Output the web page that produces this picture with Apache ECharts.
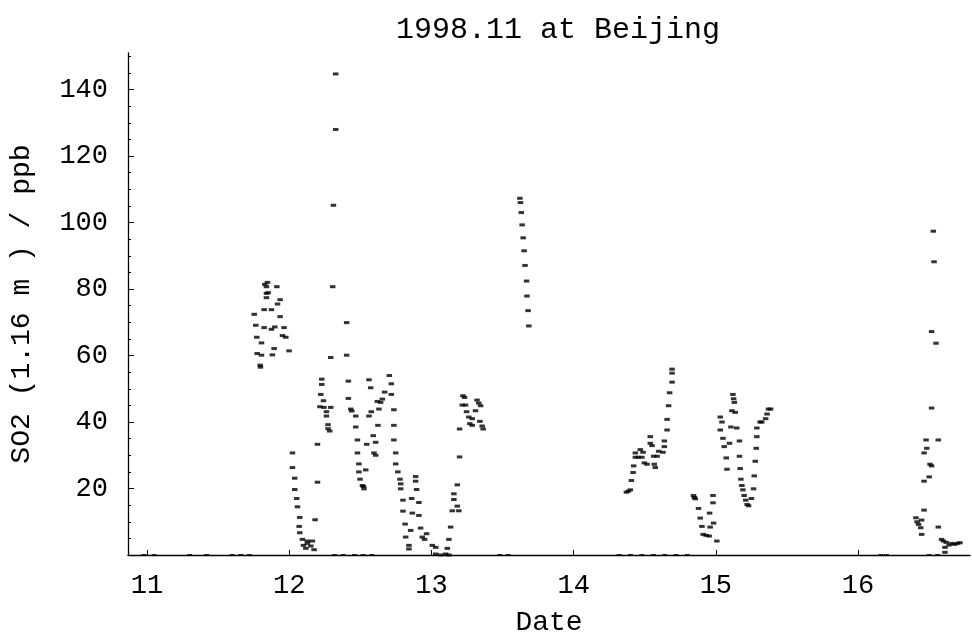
<!DOCTYPE html>
<html>
<head>
<meta charset="utf-8">
<script src="https://cdn.jsdelivr.net/npm/echarts@6/dist/echarts.min.js"></script>
<style>
  html, body { margin: 0; padding: 0; background: #ffffff; }
  #chart { width: 972px; height: 642px; }
</style>
</head>
<body>
<div id="chart"></div>
<script>
// SO2 at 1.16 m, Beijing, November 1998 (day of month vs ppb)
const dayValues = [
  11.754, 11.765, 11.772, 11.775, 11.796, 11.798, 11.805, 11.805, 11.824, 11.824,
  11.829, 11.840, 11.840, 11.840, 11.847, 11.852, 11.875, 11.875, 11.882, 11.894,
  11.899, 11.913, 11.918, 11.936, 11.936, 11.953, 11.964, 11.976, 11.999,
  12.023, 12.023, 12.039, 12.039, 12.053, 12.058, 12.074, 12.070, 12.074, 12.093,
  12.100, 12.117, 12.128, 12.128, 12.152, 12.163, 12.175, 12.182, 12.199, 12.199,
  12.216, 12.222, 12.229, 12.229, 12.241, 12.245, 12.262, 12.262, 12.273, 12.273,
  12.285, 12.292, 12.292, 12.306, 12.311, 12.327, 12.327,
  12.404, 12.404, 12.416, 12.416, 12.433, 12.440, 12.468, 12.468, 12.480, 12.480,
  12.490, 12.490, 12.498, 12.515, 12.522, 12.526,
  12.538, 12.545, 12.561, 12.561, 12.573, 12.577, 12.591, 12.596, 12.608, 12.608,
  12.620, 12.624, 12.631, 12.643, 12.655, 12.671, 12.704, 12.718, 12.718, 12.736,
  12.736, 12.736, 12.749, 12.749, 12.764, 12.779, 12.784, 12.784,
  12.800, 12.800, 12.815, 12.819, 12.842, 12.842, 12.854, 12.861, 12.866, 12.889,
  12.889, 12.896, 12.912, 12.912, 12.924, 12.936, 12.952, 12.966, 13.006, 13.030,
  13.030, 13.065, 13.100, 13.112, 13.123, 13.123, 13.135,
  13.147, 13.158, 13.158, 13.182, 13.182, 13.193, 13.198, 13.198, 13.217, 13.222,
  13.233, 13.240, 13.247, 13.263, 13.270, 13.287, 13.287, 13.310, 13.321, 13.333,
  13.341, 13.346, 13.357, 13.364,
  13.622, 13.626, 13.632, 13.638, 13.645, 13.652, 13.658, 13.669, 13.672, 13.680,
  13.685,
  14.371, 14.385, 14.399, 14.406, 14.418, 14.422, 14.434, 14.434, 14.455, 14.469,
  14.480, 14.488, 14.497, 14.516, 14.539, 14.539, 14.551, 14.563, 14.567, 14.574,
  14.587, 14.598, 14.628, 14.638, 14.638, 14.657, 14.657, 14.668, 14.675, 14.692,
  14.692, 14.692,
  14.843, 14.849, 14.855, 14.878, 14.890, 14.902, 14.911, 14.932, 14.953, 14.956,
  14.960, 14.980, 14.980, 14.984, 15.007,
  15.031, 15.031, 15.043, 15.050, 15.059, 15.073, 15.078, 15.096, 15.106, 15.120,
  15.125, 15.130, 15.113, 15.136, 15.147, 15.166, 15.166, 15.171, 15.176, 15.183,
  15.190, 15.199, 15.210, 15.220, 15.230, 15.250, 15.265, 15.270, 15.277, 15.284,
  15.288, 15.288, 15.311, 15.323, 15.350, 15.360, 15.370, 15.385,
  16.407, 16.415, 16.425, 16.440, 16.447, 16.447, 16.464, 16.464, 16.464, 16.478,
  16.483, 16.500, 16.506, 16.517, 16.517, 16.517, 16.529, 16.534, 16.548, 16.564,
  16.564, 16.587, 16.600, 16.611, 16.611, 16.620, 16.640, 16.660, 16.680, 16.700,
  16.716
];
const so2Values = [
  72.4, 69.1, 65.5, 60.6, 57.1, 56.5, 63.8, 60.1, 73.8, 68.4,
  81.4, 80.7, 77.4, 78.7, 82.0, 78.9, 73.8, 67.9, 60.2, 62.1,
  68.6, 80.7, 75.5, 76.8, 71.7, 66.0, 68.4, 65.5, 61.4,
  30.7, 26.3, 23.1, 19.7, 17.0, 14.5, 11.3, 8.6, 6.7, 4.7,
  2.9, 2.0, 4.2, 3.5, 2.7, 4.2, 1.6, 10.6, 21.9, 33.3,
  44.6, 48.3, 52.9, 51.3, 46.4, 44.4, 43.1, 41.8, 39.2, 38.0,
  37.3, 44.4, 59.4, 80.7, 105.2, 128.0, 144.7,
  69.9, 60.1, 52.3, 47.1, 43.9, 43.3, 41.8, 38.5, 34.6, 30.7,
  27.4, 25.0, 22.8, 20.9, 20.6, 19.9,
  25.6, 33.3, 52.7, 41.8, 50.3, 43.1, 35.9, 30.7, 30.0, 33.9,
  46.2, 39.0, 43.9, 45.9, 46.9, 49.0, 54.0, 51.5, 48.3, 43.7,
  39.0, 34.6, 30.7, 27.4, 25.0, 22.8, 21.4, 19.9,
  16.5, 13.2, 9.3, 5.4, 2.9, 1.8, 7.4, 17.0, 12.6, 23.6,
  22.2, 19.7, 15.8, 11.9, 8.1, 5.4, 4.7, 6.4, 2.9, 2.3,
  0.3, 0.0, 0.3, 2.0, 0.0, 4.7, 8.4,
  13.3, 16.7, 18.4, 14.7, 21.1, 13.3, 29.5, 37.9, 45.1, 47.9,
  47.4, 45.1, 43.1, 41.5, 39.5, 41.0, 39.0, 43.4, 46.6, 45.7,
  40.2, 44.9, 38.8, 37.9,
  107.3, 106.0, 103.0, 99.3, 95.4, 91.5, 87.1, 82.4, 77.9, 73.5,
  68.9,
  18.9, 19.2, 19.6, 22.4, 24.8, 26.8, 29.4, 30.7, 29.4, 31.7,
  29.4, 30.9, 27.7, 27.3, 35.6, 33.6, 32.9, 29.7, 27.3, 26.3,
  29.7, 31.2, 30.9, 32.6, 34.3, 37.6, 40.8, 44.9, 48.8, 52.0,
  54.7, 55.9,
  17.9, 17.3, 16.9, 14.0, 11.1, 8.6, 6.2, 5.9, 5.7, 12.6,
  8.4, 17.9, 15.7, 9.6, 4.2,
  41.5, 37.6, 40.0, 35.1, 32.6, 29.2, 25.8, 33.6, 38.5, 48.3,
  47.0, 45.9, 43.4, 42.9, 38.2, 34.3, 29.7, 26.0, 22.8, 20.9,
  19.6, 17.9, 16.5, 15.2, 14.8, 17.0, 19.9, 23.8, 28.2, 32.1,
  35.6, 38.2, 40.0, 40.0, 41.0, 42.4, 43.9, 43.9,
  11.2, 10.0, 9.2, 8.2, 6.2, 10.5, 13.5, 22.2, 30.7, 34.6,
  32.1, 23.5, 27.3, 26.8, 44.2, 67.2, 97.4, 88.2, 63.7, 34.6,
  8.4, 4.7, 4.2, 2.3, 0.8, 3.8, 3.0, 3.5, 3.2, 3.5,
  3.7
];
// readings sitting on the zero line
const zeroDays = [
  10.98, 11.05, 11.30, 11.42, 11.60, 11.66, 11.72, 12.32, 12.38, 12.46, 12.52, 12.58,
  13.48, 13.54, 14.32, 14.40, 14.48, 14.56, 14.64, 14.72, 14.80, 16.16, 16.20,
  16.50, 16.56
];

const dayTicks = [11, 12, 13, 14, 15, 16];
const so2Ticks = [20, 40, 60, 80, 100, 120, 140];
const so2MinorTicks = [5, 10, 15, 25, 30, 35, 45, 50, 55, 65, 70, 75, 85, 90, 95,
  105, 110, 115, 125, 130, 135, 145, 150];

const FONT = '"Courier New", Courier, "Liberation Mono", monospace';
const X_MIN = 10.8666, X_MAX = 16.787;
const Y_MIN = 0, Y_MAX = 151;

const points = dayValues.map((d, i) => [d, so2Values[i]]);
const zeroPoints = zeroDays.map(d => [d, 0]);

const chart = echarts.init(document.getElementById('chart'), null, { renderer: 'canvas' });

chart.setOption({
  backgroundColor: '#ffffff',
  animation: false,
  title: {
    text: '1998.11 at Beijing',
    left: 553,
    top: 10,
    textAlign: 'center',
    textStyle: { fontFamily: FONT, fontSize: 30, fontWeight: 'normal', color: '#000' }
  },
  grid: { left: 127, right: 2, top: 53, bottom: 76, containLabel: false },
  xAxis: [{
    type: 'value',
    min: X_MIN,
    max: X_MAX,
    name: 'Date',
    nameLocation: 'middle',
    nameGap: 54,
    nameTextStyle: { fontFamily: FONT, fontSize: 28, color: '#000' },
    axisLine: { onZero: false, lineStyle: { color: '#000', width: 1.3 } },
    axisTick: { inside: true, length: 5, customValues: dayTicks, lineStyle: { color: '#000' } },
    axisLabel: { customValues: dayTicks, fontFamily: FONT, fontSize: 27, color: '#000', margin: 17 },
    splitLine: { show: false }
  }],
  yAxis: [{
    type: 'value',
    min: Y_MIN,
    max: Y_MAX,
    name: 'SO2 (1.16 m ) / ppb',
    nameLocation: 'middle',
    nameRotate: 90,
    nameGap: 92,
    nameTextStyle: { fontFamily: FONT, fontSize: 28, color: '#000' },
    axisLine: { onZero: false, lineStyle: { color: '#000', width: 1.3 } },
    axisTick: { inside: true, length: 6, customValues: so2Ticks, lineStyle: { color: '#000' } },
    axisLabel: { customValues: so2Ticks, fontFamily: FONT, fontSize: 27, color: '#000', margin: 20 },
    splitLine: { show: false }
  }, {
    type: 'value',
    min: Y_MIN,
    max: Y_MAX,
    position: 'left',
    axisLine: { show: false },
    axisTick: { inside: true, length: 3, customValues: so2MinorTicks, lineStyle: { color: '#000' } },
    axisLabel: { show: false },
    splitLine: { show: false }
  }],
  series: [{
    type: 'scatter',
    data: points,
    symbol: 'rect',
    symbolSize: [5.5, 3],
    itemStyle: { color: '#000' },
    silent: true
  }, {
    type: 'scatter',
    data: zeroPoints,
    symbol: 'rect',
    symbolSize: [5, 2],
    itemStyle: { color: '#000' },
    silent: true
  }]
});
</script>
</body>
</html>
